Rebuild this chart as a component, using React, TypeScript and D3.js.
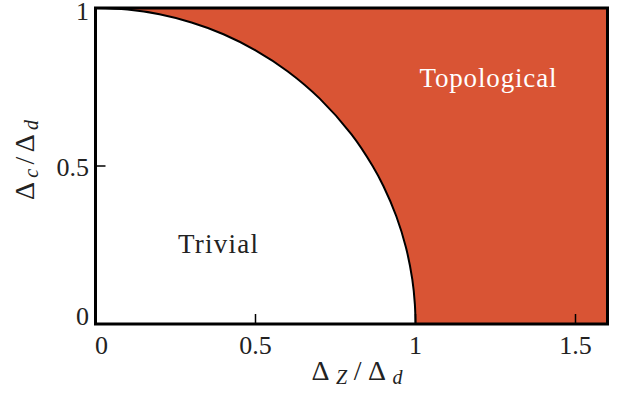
import React from "react";
import * as d3 from "d3";

const boundaryX = [0, 0.1, 0.2, 0.3, 0.4, 0.5, 0.6, 0.7, 0.8, 0.866, 0.9, 0.94, 0.97, 0.99, 0.998, 1];
const boundaryY = [1, 0.995, 0.98, 0.954, 0.917, 0.866, 0.8, 0.714, 0.6, 0.5, 0.436, 0.341, 0.243, 0.141, 0.063, 0];
const xTicks = [0, 0.5, 1, 1.5];
const yTicks = [0, 0.5, 1];
const xTickLabels = ["0", "0.5", "1", "1.5"];
const yTickLabels = ["0", "0.5", "1"];
const yLabelDy = [1, 10, 12];

const W = 619, H = 394;
const L = 95.5, R = 607.5, T = 8, B = 324;
const FONT = "'Liberation Serif', serif";
const FILL = "#D95434";
const INK = "#222";

export default function App() {
  const x = d3.scaleLinear().domain([0, 1.6]).range([L, R]);
  const y = d3.scaleLinear().domain([0, 1]).range([B, T]);
  const pts: [number, number][] = boundaryX.map((v, i) => [v, boundaryY[i]]);
  const curvePath = d3.line<[number, number]>().x(d => x(d[0])).y(d => y(d[1])).curve(d3.curveCatmullRom)(pts) || "";
  const fillPath = curvePath + ` L${x(1.6)},${y(0)} L${x(1.6)},${y(1)} Z`;
  return (
    <svg width={W} height={H} style={{ position: "absolute", left: 0, top: 0, background: "#fff" }} fontFamily={FONT}>
      <defs>
        <clipPath id="plot">
          <rect x={L} y={T} width={R - L} height={B - T} />
        </clipPath>
      </defs>
      <path d={fillPath} fill={FILL} clipPath="url(#plot)" />
      <path d={curvePath} fill="none" stroke="#000" strokeWidth={2} clipPath="url(#plot)" />
      {xTicks.map(t => (
        <line key={"xt" + t} x1={x(t)} x2={x(t)} y1={B} y2={B - 10} stroke="#000" strokeWidth={1.5} />
      ))}
      {yTicks.map(t => (
        <line key={"yt" + t} x1={L} x2={L + 10} y1={y(t)} y2={y(t)} stroke="#000" strokeWidth={1.5} />
      ))}
      <rect x={L} y={T} width={R - L} height={B - T} fill="none" stroke="#000" strokeWidth={3} />
      {xTicks.map((t, i) => (
        <text key={"xl" + t} x={x(t) + (i === 0 ? 6 : 0)} y={354} textAnchor="middle" fontSize={26} fill={INK}>{xTickLabels[i]}</text>
      ))}
      {yTicks.map((t, i) => (
        <text key={"yl" + t} x={89} y={y(t) + yLabelDy[i]} textAnchor="end" fontSize={26} fill={INK}>{yTickLabels[i]}</text>
      ))}
      <text x={357} y={380} textAnchor="middle" fontSize={28} fill={INK} textLength={91} lengthAdjust="spacing">
        Δ<tspan fontStyle="italic" fontSize={20} dy={4}>Z</tspan><tspan dy={-4}>/Δ</tspan><tspan fontStyle="italic" fontSize={20} dy={4}>d</tspan>
      </text>
      <text transform={`translate(34,160) rotate(-90)`} textAnchor="middle" fontSize={28} fill={INK} textLength={80} lengthAdjust="spacing">
        Δ<tspan fontStyle="italic" fontSize={20} dy={4}>c</tspan><tspan dy={-4}>/Δ</tspan><tspan fontStyle="italic" fontSize={20} dy={4}>d</tspan>
      </text>
      <text x={488} y={87} textAnchor="middle" fontSize={27} fill="#fff" textLength={137} lengthAdjust="spacing">Topological</text>
      <text x={218} y={253} textAnchor="middle" fontSize={27} fill={INK} textLength={80} lengthAdjust="spacing">Trivial</text>
    </svg>
  );
}
